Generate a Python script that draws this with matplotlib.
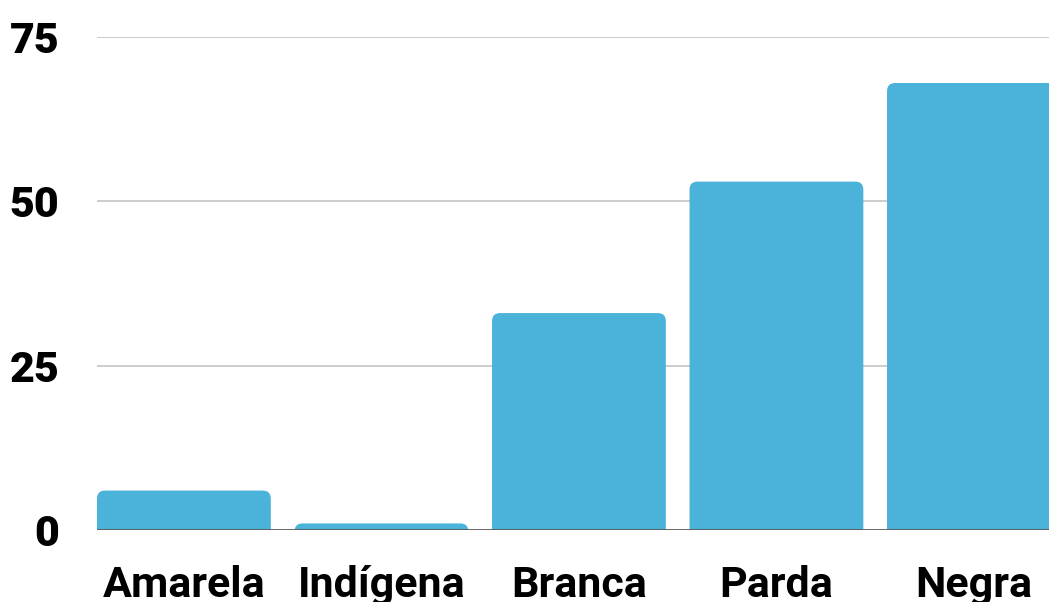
import matplotlib
matplotlib.use('Agg')
import matplotlib.pyplot as plt
from matplotlib.patches import FancyBboxPatch

# Dati
categorie = ['Amarela', 'Indígena', 'Branca', 'Parda', 'Negra']
valori = [6, 1, 33, 53, 68]
tick_y = [0, 25, 50, 75]

colore_barra = '#4BB3D9'
larghezza = 0.88

fig = plt.figure(figsize=(10.49, 6.02), dpi=100)
ax = fig.add_axes([97 / 1049, 1 - 530 / 602, 1 - 97 / 1049, (530 - 37) / 602])

ax.set_xlim(-0.44, 4.38)
ax.set_ylim(0, 75)

# Rapporto unità y / unità x per pixel (per gli angoli arrotondati)
px_x = (4.38 + 0.44) / (1049 - 97)
px_y = 75 / (530 - 37)
aspect = px_y / px_x
r = 8 * px_x

for i, v in enumerate(valori):
    x0 = i - larghezza / 2
    y0 = -3 * r * aspect
    p = FancyBboxPatch((x0, y0), larghezza, v - y0,
                       boxstyle=f'round,pad=0,rounding_size={r}',
                       mutation_aspect=aspect,
                       facecolor=colore_barra, edgecolor='none', zorder=2)
    ax.add_patch(p)

# Griglia
for t in tick_y[1:]:
    ax.axhline(t, color='#c4c4c4', lw=1.2, zorder=1)
ax.axhline(0, color='#5a5a5a', lw=2, zorder=3)

for s in ax.spines.values():
    s.set_visible(False)

ax.set_yticks(tick_y)
ax.set_yticklabels([str(t) for t in tick_y], fontfamily='Roboto',
                   fontweight='black', fontsize=31)
ax.set_xticks(range(len(categorie)))
ax.set_xticklabels(categorie, fontfamily='Roboto', fontweight='bold', fontsize=31)
ax.tick_params(axis='both', length=0)
ax.tick_params(axis='y', pad=27)
ax.tick_params(axis='x', pad=25)

fig.savefig('out.png', dpi=100)
